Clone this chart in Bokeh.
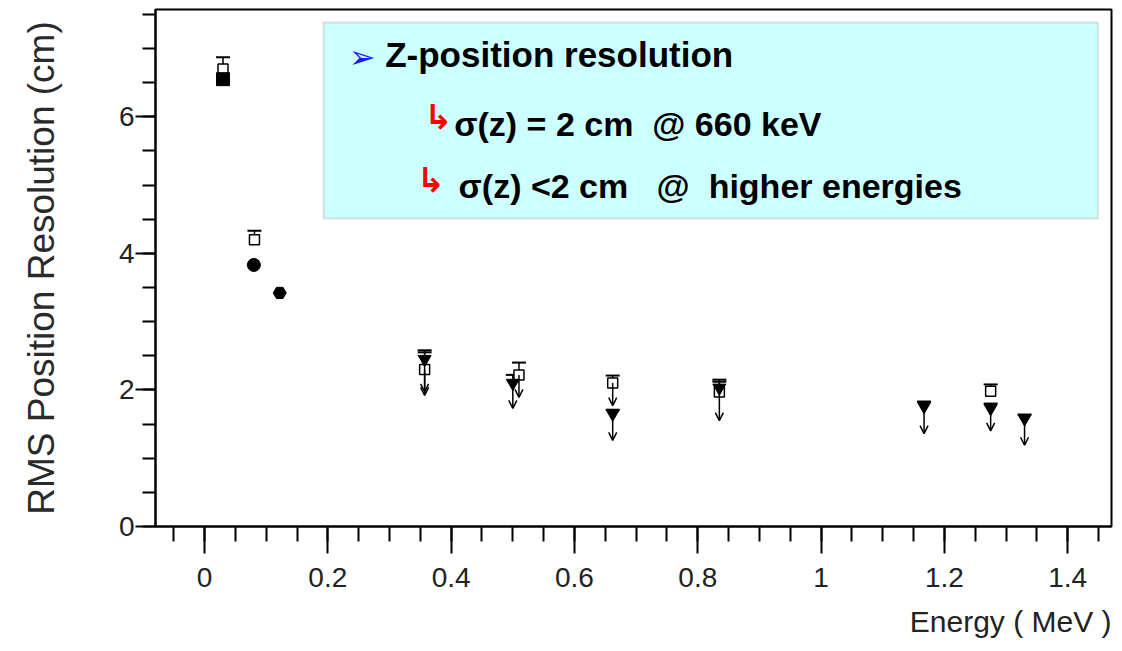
from bokeh.plotting import figure
from bokeh.models import (Range1d, FixedTicker, BoxAnnotation, Label, Title, Arrow,
                          OpenHead, ColumnDataSource, Whisker, TeeHead)
from bokeh.embed import file_html
from bokeh.resources import INLINE

# ---- data ----
# open squares (with upper error caps)
open_x = [0.030, 0.081, 0.357, 0.510, 0.662, 0.835, 1.275]
open_y = [6.70, 4.20, 2.30, 2.22, 2.10, 1.97, 1.98]
open_up = [6.87, 4.33, 2.55, 2.40, 2.21, 2.12, 2.08]
open_lim = [None, None, 1.92, 1.89, 1.77, 1.55, None]

# filled markers
fill_x = [0.030, 0.080, 0.122, 0.357, 0.500, 0.662, 0.835, 1.167, 1.275, 1.330]
fill_y = [6.55, 3.83, 3.42, 2.45, 2.10, 1.65, 2.03, 1.76, 1.73, 1.58]
fill_up = [None, None, None, 2.58, 2.22, 1.71, 2.15, 1.83, 1.80, 1.64]
fill_lim = [None, None, None, 1.97, 1.73, 1.26, None, 1.36, 1.40, 1.19]
fill_marker = ["square", "circle", "hex", "inverted_triangle", "inverted_triangle",
               "inverted_triangle", "inverted_triangle", "inverted_triangle",
               "inverted_triangle", "inverted_triangle"]

x_ticks = [0, 0.2, 0.4, 0.6, 0.8, 1, 1.2, 1.4]
x_tick_labels = ["0", "0.2", "0.4", "0.6", "0.8", "1", "1.2", "1.4"]
y_ticks = [0, 2, 4, 6]
y_tick_labels = ["0", "2", "4", "6"]

NB = "\u00a0"

p = figure(width=1122, height=651, output_backend="svg", toolbar_location=None,
           x_range=Range1d(-0.0795, 1.471), y_range=Range1d(0, 7.57),
           min_border_left=155, min_border_right=11, min_border_top=9,
           min_border_bottom=125)
p.grid.visible = False
p.background_fill_color = "white"
p.border_fill_color = "white"
p.outline_line_color = "black"
p.outline_line_width = 2

# axes
xa = p.xaxis[0]
xa.ticker = FixedTicker(ticks=x_ticks, minor_ticks=[round(-0.05 + 0.05 * i, 2) for i in range(31)])
xa.major_label_overrides = {t: l for t, l in zip(x_ticks, x_tick_labels)}
ya = p.yaxis[0]
ya.ticker = FixedTicker(ticks=y_ticks, minor_ticks=[0.5 * i for i in range(16)])
ya.major_label_overrides = {t: l for t, l in zip(y_ticks, y_tick_labels)}
for ax in (xa, ya):
    ax.axis_line_color = "black"
    ax.axis_line_width = 2
    ax.major_tick_line_color = "black"
    ax.minor_tick_line_color = "black"
    ax.major_tick_line_width = 2
    ax.minor_tick_line_width = 2
    ax.major_tick_in = 0
    ax.minor_tick_in = 0
    ax.major_label_text_font = "Liberation Sans"
    ax.major_label_text_font_size = "28px"
    ax.major_label_text_color = "#222222"
xa.major_tick_out = 27
xa.minor_tick_out = 15
xa.major_label_standoff = 14
ya.major_tick_out = 20
ya.minor_tick_out = 13
ya.major_label_standoff = 1
ya.axis_label = "RMS Position Resolution (cm)"
ya.axis_label_text_font = "Liberation Sans"
ya.axis_label_text_font_style = "normal"
ya.axis_label_text_font_size = "37px"
ya.axis_label_text_color = "#2a2a2a"
ya.axis_label_standoff = 54

p.add_layout(Title(text="Energy ( MeV )", align="right", text_font="Liberation Sans",
                   text_font_style="normal", text_font_size="30px", standoff=26,
                   text_color="#222222"), "below")

# text box
p.add_layout(BoxAnnotation(left=0.193, right=1.449, bottom=4.51, top=7.38,
                           fill_color="#CCFFFF", fill_alpha=1.0,
                           line_color="#9a9a9a", line_width=2, level="underlay"))

# error caps
osrc = ColumnDataSource(dict(x=open_x, y=open_y, up=open_up))
p.add_layout(Whisker(base="x", upper="up", lower="y", source=osrc, dimension="height",
                     upper_head=TeeHead(size=14, line_width=2, line_color="black"),
                     lower_head=None, line_width=1.5, line_color="black"))
fx = [x for x, u in zip(fill_x, fill_up) if u is not None]
fy = [y for y, u in zip(fill_y, fill_up) if u is not None]
fu = [u for u in fill_up if u is not None]
fsrc = ColumnDataSource(dict(x=fx, y=fy, up=fu))
p.add_layout(Whisker(base="x", upper="up", lower="y", source=fsrc, dimension="height",
                     upper_head=TeeHead(size=14, line_width=2, line_color="black"),
                     lower_head=None, line_width=1.5, line_color="black"))

# upper-limit arrows
ax_s, ay_s, ay_e = [], [], []
for xs, ys, ls in ((open_x, open_y, open_lim), (fill_x, fill_y, fill_lim)):
    for x, y, l in zip(xs, ys, ls):
        if l is not None:
            ax_s.append(x); ay_s.append(y); ay_e.append(l)
asrc = ColumnDataSource(dict(x0=ax_s, y0=ay_s, x1=ax_s, y1=ay_e))
p.add_layout(Arrow(x_start="x0", y_start="y0", x_end="x1", y_end="y1", source=asrc,
                   line_width=1.5, line_color="black",
                   end=OpenHead(size=8, line_width=1.5, line_color="black")))

# markers
p.scatter(open_x, open_y, marker="square", size=10, fill_color="white",
          line_color="black", line_width=1.5)
p.scatter(x=fill_x, y=fill_y, marker=fill_marker, size=13, fill_color="black",
          line_color="black")

# text in box
p.add_layout(Label(x=0.234, y=6.60, text="\u27a2", text_color="#1a1aff",
                   text_font="DejaVu Sans", text_font_size="32px"))
p.add_layout(Label(x=0.293, y=6.63, text="Z-position resolution", text_color="black",
                   text_font="Liberation Sans", text_font_style="bold",
                   text_font_size="35px"))
p.add_layout(Label(x=0.356, y=5.70, text="\u21b3", text_color="red",
                   text_font="DejaVu Sans", text_font_style="bold", text_font_size="34px"))
p.add_layout(Label(x=0.405, y=5.62, text="\u03c3(z) = 2 cm" + NB + NB + "@ 660 keV",
                   text_color="black", text_font="Liberation Sans",
                   text_font_style="bold", text_font_size="34px"))
p.add_layout(Label(x=0.344, y=4.78, text="\u21b3", text_color="red",
                   text_font="DejaVu Sans", text_font_style="bold", text_font_size="34px"))
p.add_layout(Label(x=0.412, y=4.71,
                   text="\u03c3(z) <2 cm" + NB + NB + NB + "@" + NB + NB + "higher energies",
                   text_color="black", text_font="Liberation Sans",
                   text_font_style="bold", text_font_size="34px"))

open("out.html", "w").write(file_html(p, INLINE))
